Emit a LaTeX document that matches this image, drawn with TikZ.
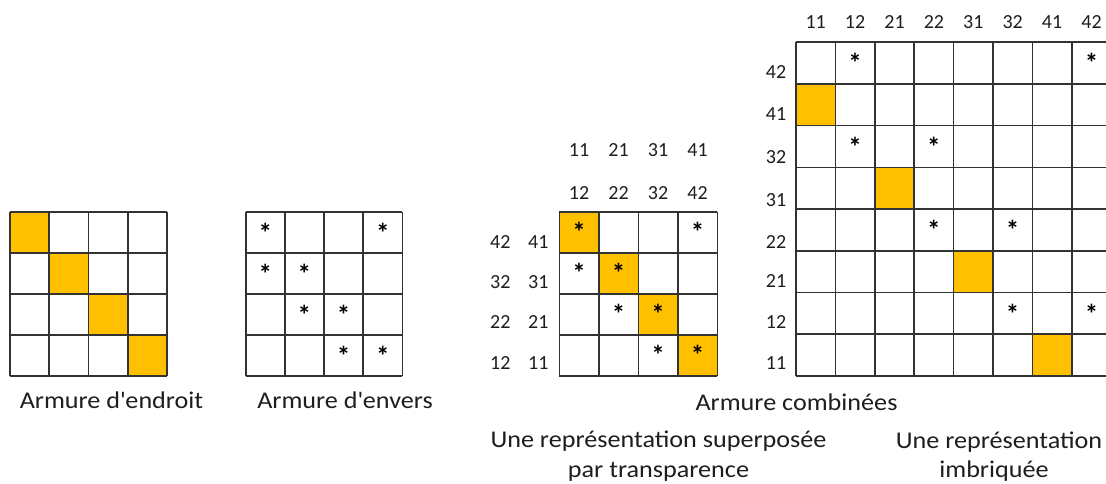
\documentclass[tikz,border=0pt]{standalone}
\usepackage{fontspec}
\setmainfont{Carlito}
\newfontfamily\capfont{Carlito}[FakeStretch=1.09]
\definecolor{gold}{HTML}{FFC000}
\definecolor{txt}{HTML}{1E1E1E}
\definecolor{gridc}{HTML}{333333}
\newcommand\gridlines[4]{% ncols, nrows
  \foreach \i in {0,...,#1} \draw[gl] (\i,0) -- (\i,#2);
  \foreach \j in {0,...,#2} \draw[gl] (0,\j) -- (#1,\j);
}
\begin{document}
\begin{tikzpicture}[x=1pt,y=-1pt,
  gl/.style={draw=gridc,line width=1.6pt},
  goldcell/.style={fill=gold},
  ast/.style={font=\fontsize{27}{27}\selectfont\bfseries,text=black,inner sep=0pt},
  lab/.style={font=\fontsize{20}{20}\selectfont,text=txt,inner sep=0pt},
  captxt/.style={font=\capfont\fontsize{24}{24}\selectfont,text=txt,inner sep=0pt,anchor=base}]
\useasboundingbox (0,0) rectangle (1106,484);
\clip (0,0) rectangle (1106,484);
\fill[white] (0,0) rectangle (1106,484);

% Grid 1 : Armure d'endroit
\begin{scope}[shift={(10,212)},x=39.25pt,y=-41pt]
  \foreach \c in {1,...,4} \fill[goldcell] (\c-1,\c-1) rectangle (\c,\c);
  \gridlines{4}{4}{}{}
\end{scope}

% Grid 2 : Armure d'envers
\begin{scope}[shift={(245.7,212)},x=39.15pt,y=-41pt]
  \foreach \c/\r [count=\k] in {1/1,4/1,1/2,2/2,2/3,3/3,3/4,4/4}
    \node[ast] (e\k) at (\c-0.5,\r-0.5) {*};
  \gridlines{4}{4}{}{}
\end{scope}

% Grid 3 : superposed
\begin{scope}[shift={(559.3,211.7)},x=39.5pt,y=-41pt]
  \foreach \c in {1,...,4} \fill[goldcell] (\c-1,\c-1) rectangle (\c,\c);
  \foreach \c/\r [count=\k] in {1/1,4/1,1/2,2/2,2/3,3/3,3/4,4/4}
    \node[ast] (s\k) at (\c-0.5,\r-0.5) {*};
  \gridlines{4}{4}{}{}
\end{scope}
\foreach \t/\u [count=\k] in {11/12,21/22,31/32,41/42}{
  \node[lab] (tA\k) at (559.3+39.5*\k-19.75,150) {\t};
  \node[lab] (tB\k) at (559.3+39.5*\k-19.75,192.8) {\u};
}
\foreach \a/\b/\y [count=\k] in {42/41/242.5,32/31/281.7,22/21/321.7,12/11/363.3}{
  \node[lab] (lA\k) at (500.3,\y) {\a};
  \node[lab] (lB\k) at (538.3,\y) {\b};
}

% Grid 4 : imbricated
\begin{scope}[shift={(796,42.3)},x=39.4pt,y=-41.7pt]
  \foreach \c/\r in {1/2,3/4,5/6,7/8} \fill[goldcell] (\c-1,\r-1) rectangle (\c,\r);
  \foreach \c/\r [count=\k] in {2/1,8/1,2/3,4/3,4/5,6/5,6/7,8/7}
    \node[ast] (i\k) at (\c-0.5,\r-0.5) {*};
  \gridlines{8}{8}{}{}
\end{scope}
\foreach \t [count=\k] in {11,12,21,22,31,32,41,42}
  \node[lab] (tC\k) at (796+39.4*\k-19.7,22) {\t};
\foreach \t/\y [count=\k] in {42/71.7,41/114,32/157,31/199.7,22/241.7,21/281.3,12/322.2,11/363}
  \node[lab] (lC\k) at (776,\y) {\t};

% Captions
\node[captxt] (c1) at (111.5,408.3) {Armure d\textquotesingle endroit};
\node[captxt] (c2) at (345,408.3) {Armure d\textquotesingle envers};
\node[captxt] (c3) at (796.5,410) {Armure combinées};
\node[captxt] (c4) at (658.5,447) {Une représentation superposée};
\node[captxt] (c5) at (658.5,477) {par transparence};
\node[captxt] (c6) at (999,448) {Une représentation};
\node[captxt] (c7) at (994,477) {imbriquée};
\end{tikzpicture}
\end{document}
